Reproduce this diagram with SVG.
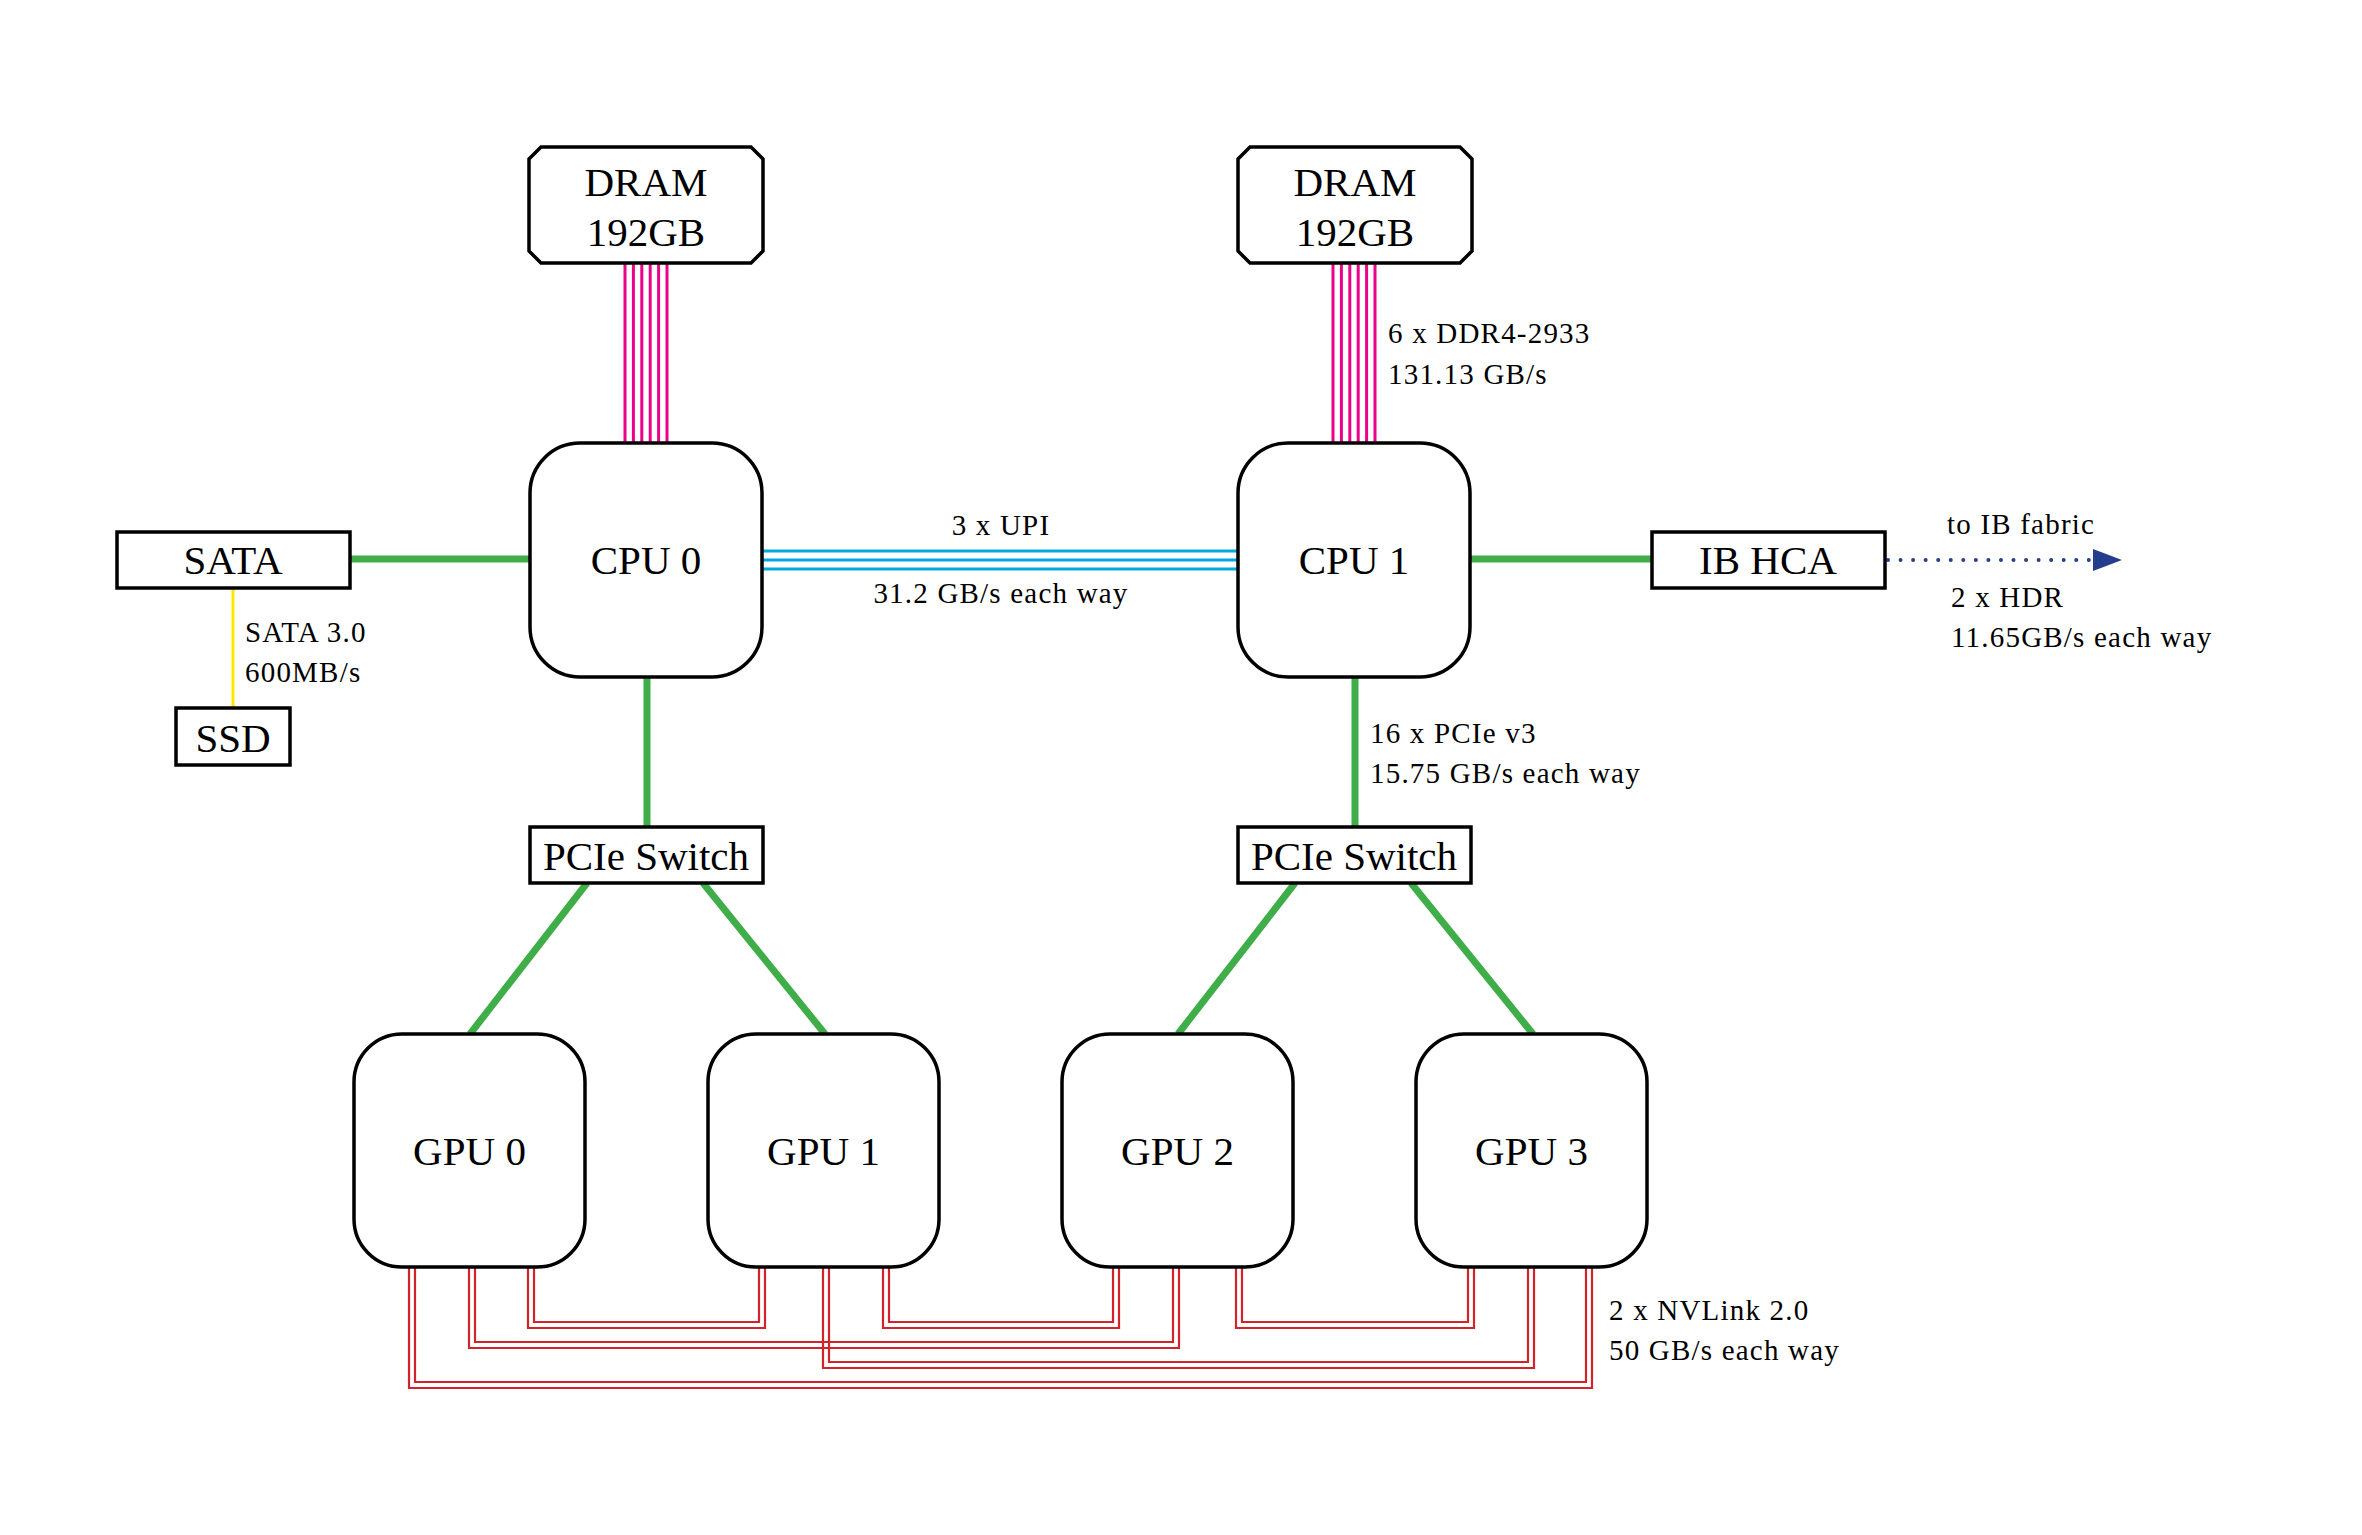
<svg xmlns="http://www.w3.org/2000/svg" width="2362" height="1535" viewBox="0 0 2362 1535">
<style>
.box{fill:#fff;stroke:#000;stroke-width:3.5}
.nt{font-family:"Liberation Serif",serif;font-size:41px;fill:#000;text-anchor:middle}
.lb{font-family:"Liberation Serif",serif;font-size:29px;fill:#000;letter-spacing:1.2px}
.lbc{font-family:"Liberation Serif",serif;font-size:29px;fill:#000;letter-spacing:1.2px;text-anchor:middle}
.pcie{stroke:#3FAE49;stroke-width:7;fill:none}
.mem{stroke:#EC008C;stroke-width:3;fill:none}
.upi{stroke:#00A9E6;stroke-width:3;fill:none}
.nv{stroke:#D2232A;stroke-width:2.2;fill:none}
.sata{stroke:#FFE600;stroke-width:3;fill:none}
.ib{stroke:#253D8F;stroke-width:4;stroke-linecap:round;stroke-dasharray:0 12.55;fill:none}
</style>
<rect width="2362" height="1535" fill="#fff"/>
<g id="connectors">
  <!-- DRAM 0 -> CPU 0 -->
  <path class="mem" d="M625,263V443M633.4,263V443M641.8,263V443M650.2,263V443M658.6,263V443M667,263V443"/>
  <!-- DRAM 1 -> CPU 1 -->
  <path class="mem" d="M1333,263V443M1341.4,263V443M1349.8,263V443M1358.2,263V443M1366.6,263V443M1375,263V443"/>
  <!-- UPI -->
  <path class="upi" d="M762,551H1238M762,560H1238M762,569H1238"/>
  <!-- SATA -->
  <path class="pcie" d="M350,559H530"/>
  <path class="sata" d="M233,588V708"/>
  <!-- IB -->
  <path class="pcie" d="M1470,559H1652"/>
  <path class="ib" d="M1888,560H2090"/>
  <polygon points="2093,549 2122,560 2093,571" fill="#253D8F"/>
  <!-- CPU -> PCIe switch -->
  <path class="pcie" d="M647,677V827"/>
  <path class="pcie" d="M1355,677V827"/>
  <!-- switch -> GPUs -->
  <path class="pcie" d="M587,883L470,1034M703,883L825,1034"/>
  <path class="pcie" d="M1295,883L1178,1034M1411,883L1533,1034"/>
  <!-- NVLink -->
  <path class="nv" d="M528,1267V1328H765V1267M534,1267V1322H759V1267"/>
  <path class="nv" d="M883,1267V1328H1119V1267M889,1267V1322H1113V1267"/>
  <path class="nv" d="M1236,1267V1328H1474V1267M1242,1267V1322H1468V1267"/>
  <path class="nv" d="M469,1267V1348H1179V1267M475,1267V1342H1173V1267"/>
  <path class="nv" d="M823,1267V1368H1534V1267M829,1267V1362H1528V1267"/>
  <path class="nv" d="M409,1267V1388H1592V1267M415,1267V1382H1586V1267"/>
</g>
<g id="labels">
  <text class="lb" x="1388" y="343">6 x DDR4-2933</text>
  <text class="lb" x="1388" y="384">131.13 GB/s</text>
  <text class="lbc" x="1001" y="535">3 x UPI</text>
  <text class="lbc" x="1001" y="603">31.2 GB/s each way</text>
  <text class="lb" x="245" y="642">SATA 3.0</text>
  <text class="lb" x="245" y="682">600MB/s</text>
  <text class="lb" x="1947" y="534">to IB fabric</text>
  <text class="lb" x="1951" y="607">2 x HDR</text>
  <text class="lb" x="1951" y="647">11.65GB/s each way</text>
  <text class="lb" x="1370" y="743">16 x PCIe v3</text>
  <text class="lb" x="1370" y="783">15.75 GB/s each way</text>
  <text class="lb" x="1609" y="1320">2 x NVLink 2.0</text>
  <text class="lb" x="1609" y="1360">50 GB/s each way</text>
</g>
<g id="dram0">
  <polygon class="box" points="541,147 751,147 763,159 763,251 751,263 541,263 529,251 529,159"/>
  <text class="nt" x="646" y="196">DRAM</text>
  <text class="nt" x="646" y="246">192GB</text>
</g>
<g id="dram1">
  <polygon class="box" points="1250,147 1460,147 1472,159 1472,251 1460,263 1250,263 1238,251 1238,159"/>
  <text class="nt" x="1355" y="196">DRAM</text>
  <text class="nt" x="1355" y="246">192GB</text>
</g>
<g id="cpu0">
  <rect class="box" x="530" y="443" width="232" height="234" rx="50"/>
  <text class="nt" x="646" y="574">CPU 0</text>
</g>
<g id="cpu1">
  <rect class="box" x="1238" y="443" width="232" height="234" rx="50"/>
  <text class="nt" x="1354" y="574">CPU 1</text>
</g>
<g id="sata">
  <rect class="box" x="117" y="532" width="233" height="56"/>
  <text class="nt" x="233" y="574">SATA</text>
</g>
<g id="ssd">
  <rect class="box" x="176" y="708" width="114" height="57"/>
  <text class="nt" x="233" y="752">SSD</text>
</g>
<g id="ibhca">
  <rect class="box" x="1652" y="532" width="233" height="56"/>
  <text class="nt" x="1768" y="574">IB HCA</text>
</g>
<g id="switch0">
  <rect class="box" x="530" y="827" width="233" height="56"/>
  <text class="nt" x="646" y="870">PCIe Switch</text>
</g>
<g id="switch1">
  <rect class="box" x="1238" y="827" width="233" height="56"/>
  <text class="nt" x="1354" y="870">PCIe Switch</text>
</g>
<g id="gpu0">
  <rect class="box" x="354" y="1034" width="231" height="233" rx="48"/>
  <text class="nt" x="469.5" y="1165">GPU 0</text>
</g>
<g id="gpu1">
  <rect class="box" x="708" y="1034" width="231" height="233" rx="48"/>
  <text class="nt" x="823.5" y="1165">GPU 1</text>
</g>
<g id="gpu2">
  <rect class="box" x="1062" y="1034" width="231" height="233" rx="48"/>
  <text class="nt" x="1177.5" y="1165">GPU 2</text>
</g>
<g id="gpu3">
  <rect class="box" x="1416" y="1034" width="231" height="233" rx="48"/>
  <text class="nt" x="1531.5" y="1165">GPU 3</text>
</g>
</svg>
